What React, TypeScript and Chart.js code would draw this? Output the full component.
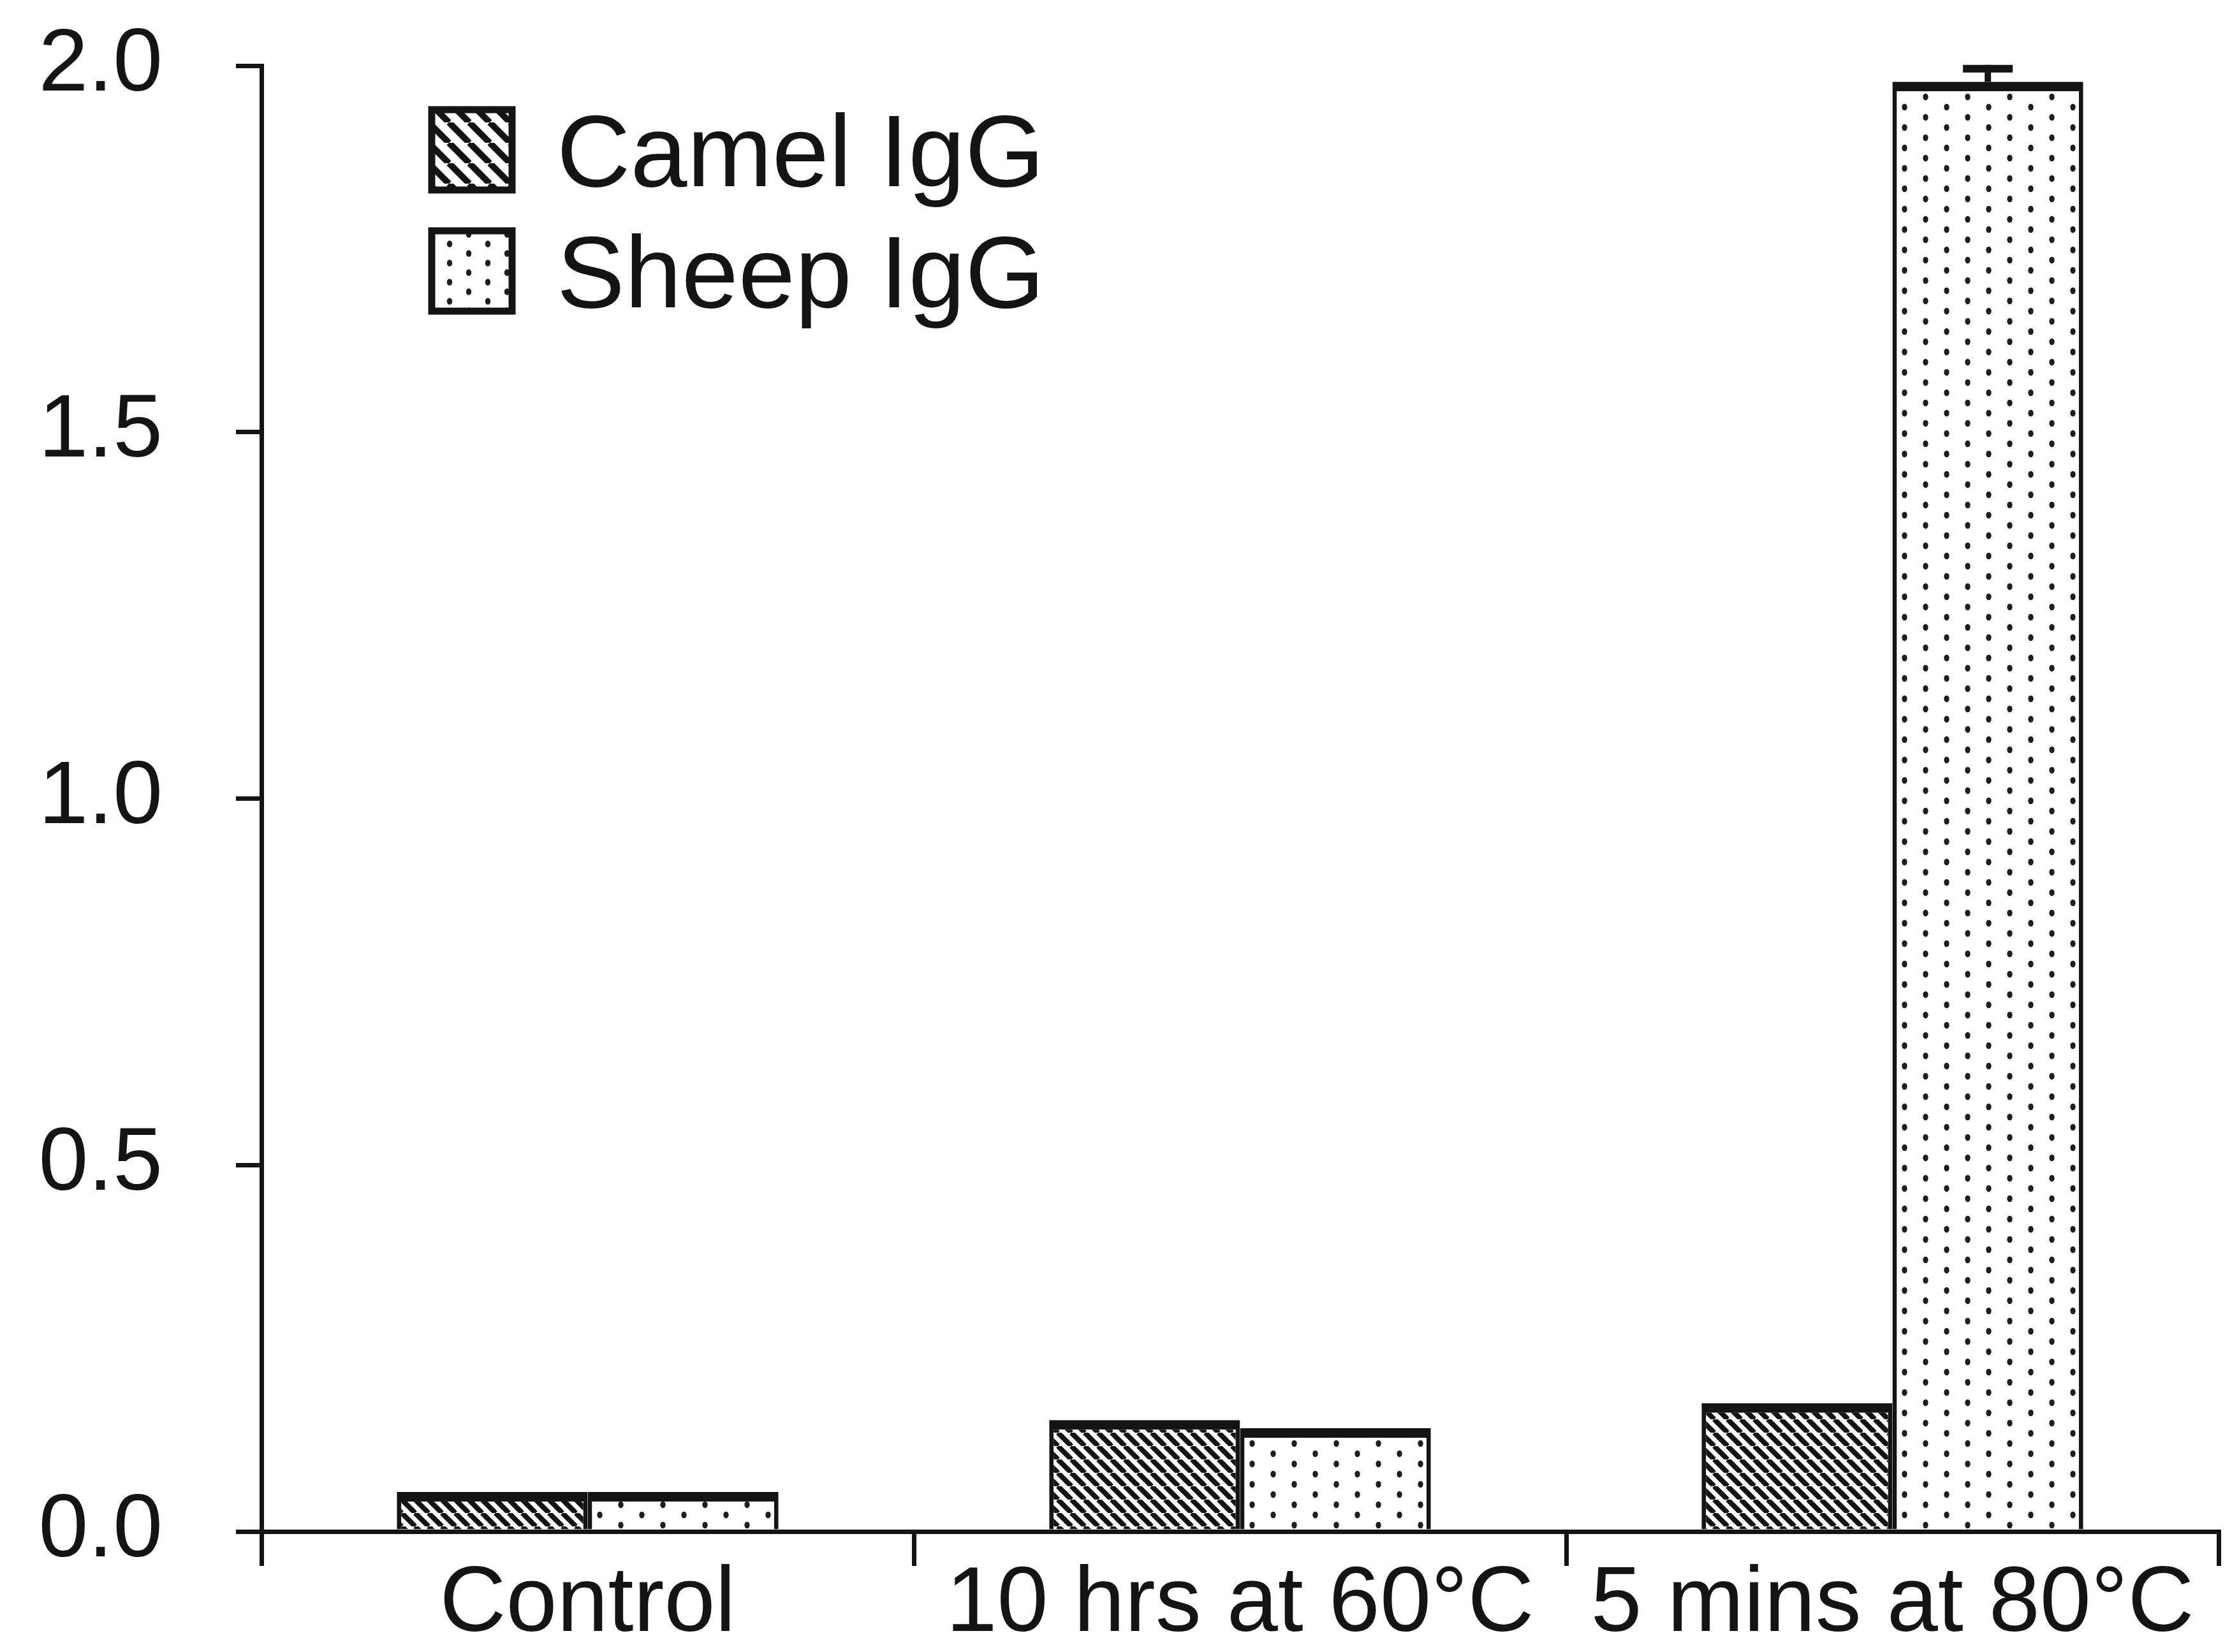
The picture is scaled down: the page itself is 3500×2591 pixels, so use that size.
import React, { useEffect, useRef } from 'react';
import { Chart, registerables } from 'chart.js';

Chart.register(...registerables);

const categories = ['Control', '10 hrs at 60°C', '5 mins at 80°C'];
const seriesNames = ['Camel IgG', 'Sheep IgG'];
const camelValues = [0.054, 0.152, 0.175];
const sheepValues = [0.054, 0.141, 1.978];
const camelErrors = [0, 0, 0];
const sheepErrors = [0, 0, 0.023];
const yTicks = [0, 0.5, 1.0, 1.5, 2.0];

const INK = '#141414';
const FONT = '"Liberation Sans", Arial, Helvetica, sans-serif';

function makeHatch(ctx: CanvasRenderingContext2D, spacing: number, lw: number) {
  const c = document.createElement('canvas');
  c.width = spacing;
  c.height = spacing;
  const g = c.getContext('2d')!;
  g.fillStyle = '#ffffff';
  g.fillRect(0, 0, spacing, spacing);
  g.strokeStyle = INK;
  g.lineWidth = lw;
  g.beginPath();
  for (const o of [-spacing, 0, spacing]) {
    g.moveTo(o, 0);
    g.lineTo(o + spacing, spacing);
  }
  g.stroke();
  return ctx.createPattern(c, 'repeat')!;
}

function makeDots(ctx: CanvasRenderingContext2D, w: number, h: number, r: number) {
  const c = document.createElement('canvas');
  c.width = w;
  c.height = h;
  const g = c.getContext('2d')!;
  g.fillStyle = '#ffffff';
  g.fillRect(0, 0, w, h);
  g.fillStyle = '#1e1e1e';
  const pts = [
    [w / 4, h / 4],
    [(3 * w) / 4, (3 * h) / 4],
  ];
  for (const [x, y] of pts) {
    g.beginPath();
    g.ellipse(x, y, r, r * 1.25, 0, 0, Math.PI * 2);
    g.fill();
  }
  return ctx.createPattern(c, 'repeat')!;
}

export default function App() {
  const ref = useRef<HTMLCanvasElement | null>(null);

  useEffect(() => {
    const canvas = ref.current!;
    const ctx = canvas.getContext('2d')!;
    const hatch = makeHatch(ctx, 21, 8);
    const dots = makeDots(ctx, 66, 32, 4.2);
    const hatchLegend = makeHatch(ctx, 32, 10);
    const dotsLegend = makeDots(ctx, 60, 30, 4.2);
    const errors = [camelErrors, sheepErrors];
    const legendFills = [hatchLegend, dotsLegend];

    const errorBars = {
      id: 'errorBars',
      afterDatasetsDraw(chart: any) {
        const c = chart.ctx;
        const y = chart.scales.y;
        chart.data.datasets.forEach((ds: any, di: number) => {
          const meta = chart.getDatasetMeta(di);
          meta.data.forEach((bar: any, i: number) => {
            const e = errors[di][i];
            if (!e) return;
            const v = ds.data[i];
            const yTop = y.getPixelForValue(v + e);
            const yBar = y.getPixelForValue(v);
            c.save();
            c.strokeStyle = INK;
            c.lineWidth = 10;
            c.beginPath();
            c.moveTo(bar.x, yBar);
            c.lineTo(bar.x, yTop);
            c.stroke();
            c.lineWidth = 12;
            c.beginPath();
            c.moveTo(bar.x - 39, yTop + 6);
            c.lineTo(bar.x + 39, yTop + 6);
            c.stroke();
            c.restore();
          });
        });
      },
    };

    const legendPlugin = {
      id: 'customLegend',
      afterDraw(chart: any) {
        const c = chart.ctx;
        const area = chart.chartArea;
        const boxLeft = area.left + 267;
        const size = 126;
        const centers = [area.top + 132, area.top + 322];
        chart.data.datasets.forEach((ds: any, i: number) => {
          const cy = centers[i];
          c.save();
          c.fillStyle = legendFills[i];
          c.fillRect(boxLeft, cy - size / 2, size, size);
          c.strokeStyle = INK;
          c.lineWidth = 11;
          c.strokeRect(boxLeft, cy - size / 2, size, size);
          c.fillStyle = INK;
          c.font = `160px ${FONT}`;
          c.textBaseline = 'alphabetic';
          c.textAlign = 'left';
          c.fillText(ds.label, boxLeft + 196, cy + 0.358 * 160);
          c.restore();
        });
      },
    };

    const barBorder = { top: 15, left: 7, right: 7, bottom: 0 };

    const chart = new Chart(canvas, {
      type: 'bar',
      data: {
        labels: categories,
        datasets: [
          {
            label: seriesNames[0],
            data: camelValues,
            backgroundColor: hatch,
            borderColor: INK,
            borderWidth: barBorder,
            borderSkipped: 'start',
            categoryPercentage: 0.585,
            barPercentage: 1.0,
          },
          {
            label: seriesNames[1],
            data: sheepValues,
            backgroundColor: dots,
            borderColor: INK,
            borderWidth: barBorder,
            borderSkipped: 'start',
            categoryPercentage: 0.585,
            barPercentage: 1.0,
          },
        ],
      },
      options: {
        responsive: false,
        animation: false,
        devicePixelRatio: 1,
        layout: { autoPadding: false, padding: { top: 103, right: 21, left: 0, bottom: 0 } },
        plugins: {
          legend: { display: false },
          tooltip: { enabled: false },
          title: { display: false },
        },
        scales: {
          x: {
            type: 'category',
            offset: true,
            grid: {
              offset: true,
              drawOnChartArea: false,
              drawTicks: true,
              tickLength: 54,
              color: INK,
              lineWidth: 7,
            },
            border: { display: true, color: INK, width: 7 },
            ticks: {
              color: INK,
              padding: -10,
              maxRotation: 0,
              autoSkip: false,
              font: { family: FONT, size: 144, lineHeight: 1.0 },
            },
            afterFit(scale: any) {
              scale.height = 189;
              scale.paddingLeft = 0;
              scale.paddingRight = 0;
            },
          },
          y: {
            min: 0,
            max: 2,
            grid: {
              drawOnChartArea: false,
              drawTicks: true,
              tickLength: 40,
              color: INK,
              lineWidth: 7,
            },
            border: { display: true, color: INK, width: 7 },
            afterBuildTicks(scale: any) {
              scale.ticks = yTicks.map((v) => ({ value: v }));
            },
            ticks: {
              color: INK,
              padding: 115,
              font: { family: FONT, size: 140, lineHeight: 1.0 },
              callback: (v: any) => Number(v).toFixed(1),
            },
            afterFit(scale: any) {
              scale.width = 410;
              scale.paddingTop = 0;
              scale.paddingBottom = 0;
            },
          },
        },
      },
      plugins: [errorBars, legendPlugin],
    });

    return () => chart.destroy();
  }, []);

  return (
    <div style={{ position: 'absolute', left: 0, top: 0, width: 3500, height: 2591, background: '#ffffff' }}>
      <canvas ref={ref} width={3500} height={2591} style={{ width: 3500, height: 2591, display: 'block' }} />
    </div>
  );
}
